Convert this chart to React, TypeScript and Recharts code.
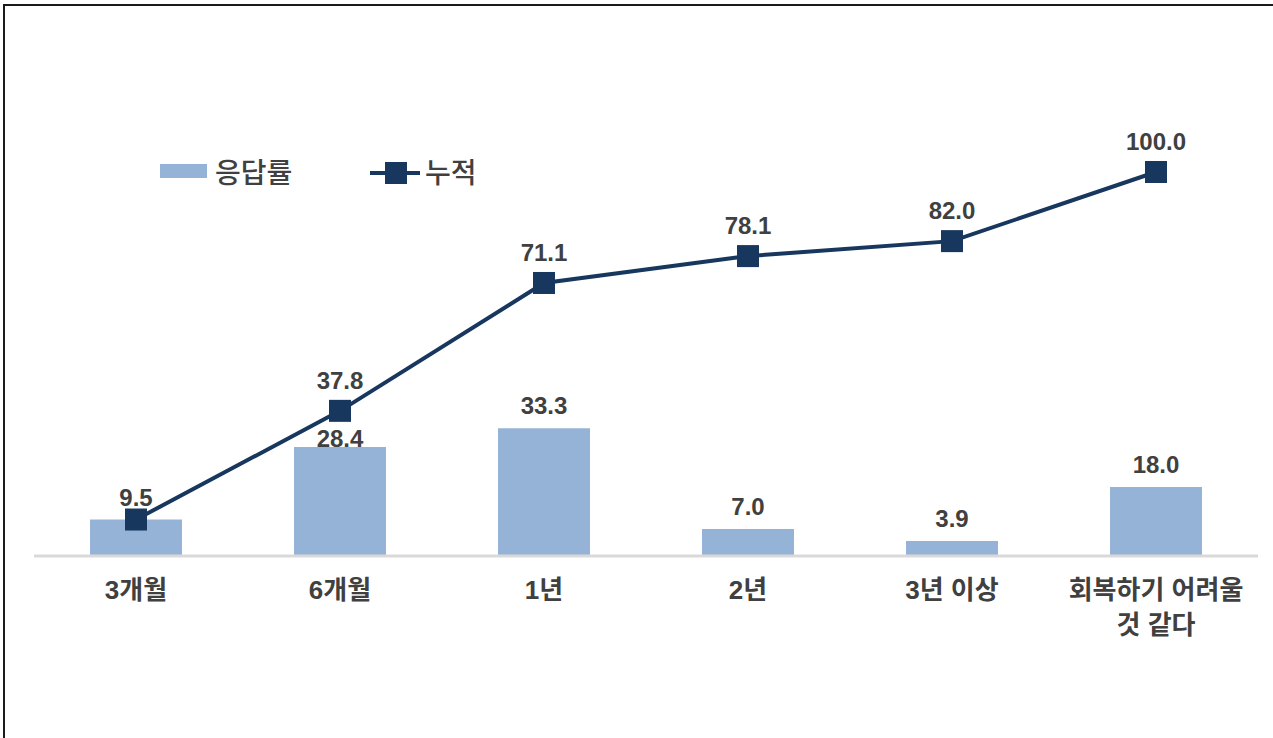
import React from 'react';
import { ComposedChart, Bar, Line, XAxis, YAxis, Legend, LabelList } from 'recharts';

const categories = ['3개월', '6개월', '1년', '2년', '3년 이상', '회복하기 어려울\n것 같다'];
const rate = [9.5, 28.4, 33.3, 7.0, 3.9, 18.0];
const cumulative = [9.5, 37.8, 71.1, 78.1, 82.0, 100.0];

const data = categories.map((name, i) => ({ name, rate: rate[i], cumulative: cumulative[i] }));

const BAR = '#95b3d7';
const NAVY = '#17375e';
const TEXT = '#404040';
const FONT = "'Liberation Sans', Arial, 'Noto Sans CJK KR', sans-serif";

function CategoryTick(props: any) {
  const { x, y, payload } = props;
  const lines = String(payload.value).split('\n');
  return (
    <text x={x} y={y + 35} textAnchor="middle" fill={TEXT} fontSize={26} fontWeight="bold" fontFamily={FONT}>
      {lines.map((l, i) => (
        <tspan key={i} x={x} dy={i === 0 ? 0 : 35}>{l}</tspan>
      ))}
    </text>
  );
}

function SquareDot(props: any) {
  const { cx, cy } = props;
  if (cx == null || cy == null) return null;
  return <rect x={cx - 11} y={cy - 11} width={22} height={22} fill={NAVY} />;
}

function BarValue(props: any) {
  const { x, y, width, value, index } = props;
  // the 28.4 label sits flush on its bar, under the line marker
  const off = index === 1 ? 0 : 14;
  return (
    <text x={x + width / 2} y={y - off} textAnchor="middle" fill={TEXT} fontSize={24} fontWeight="bold" fontFamily={FONT}>
      {Number(value).toFixed(1)}
    </text>
  );
}

function LineValue(props: any) {
  const { x, y, value, index } = props;
  if (index === 0) return null; // shares the bar's label
  return (
    <text x={x} y={y - 22} textAnchor="middle" fill={TEXT} fontSize={24} fontWeight="bold" fontFamily={FONT}>
      {Number(value).toFixed(1)}
    </text>
  );
}

function ChartLegend() {
  return (
    <svg width={340} height={40} style={{ display: 'block', overflow: 'visible' }}>
      <rect x={5} y={12} width={47} height={14} fill={BAR} />
      <text x={60} y={31} fill={TEXT} fontSize={28} fontWeight={500} fontFamily={FONT}>응답률</text>
      <line x1={215} y1={21} x2={265} y2={21} stroke={NAVY} strokeWidth={4} />
      <rect x={230} y={10} width={22} height={22} fill={NAVY} />
      <text x={270} y={31} fill={TEXT} fontSize={28} fontWeight={500} fontFamily={FONT}>누적</text>
    </svg>
  );
}

export default function App() {
  return (
    <div style={{ position: 'fixed', left: 0, top: 0, width: 1273, height: 738, background: '#fff' }}>
      <div
        style={{
          position: 'absolute', left: 3, top: 4, right: 0, bottom: 0,
          borderTop: '2px solid #1a1a1a', borderLeft: '2px solid #1a1a1a',
        }}
      />
      <div style={{ position: 'absolute', left: 0, top: 0 }}>
        <ComposedChart
          width={1273}
          height={738}
          data={data}
          margin={{ top: 172, right: 15, bottom: 122, left: 34 }}
        >
          <XAxis
            dataKey="name"
            interval={0}
            tickLine={false}
            axisLine={{ stroke: '#d9d9d9', strokeWidth: 3 }}
            height={60}
            tick={<CategoryTick />}
          />
          <YAxis hide domain={[0, 100]} />
          <Legend
            layout="horizontal"
            verticalAlign="middle"
            align="center"
            content={() => <ChartLegend />}
            wrapperStyle={{ position: 'absolute', left: 155, top: 152, width: 340, height: 40 }}
          />
          <Bar dataKey="rate" name="응답률" fill={BAR} barSize={92} isAnimationActive={false}>
            <LabelList dataKey="rate" content={<BarValue />} />
          </Bar>
          <Line
            dataKey="cumulative"
            name="누적"
            type="linear"
            stroke={NAVY}
            strokeWidth={4}
            dot={<SquareDot />}
            activeDot={false}
            isAnimationActive={false}
          >
            <LabelList dataKey="cumulative" content={<LineValue />} />
          </Line>
        </ComposedChart>
      </div>
    </div>
  );
}
